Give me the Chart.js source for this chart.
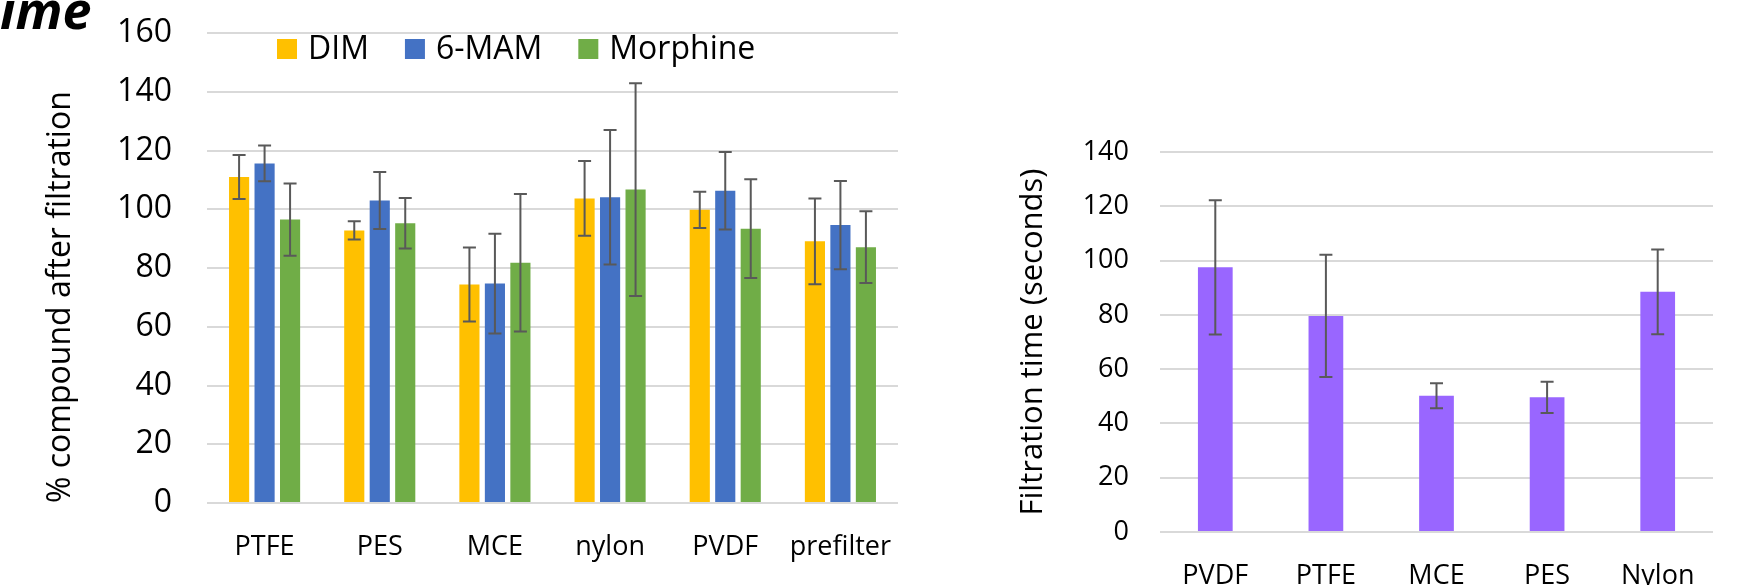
<!DOCTYPE html>
<html>
<head>
<meta charset="utf-8">
<script src="https://cdn.jsdelivr.net/npm/chart.js@4/dist/chart.umd.min.js"></script>
<style>
    html, body { margin: 0; padding: 0; background: #fff; }
    body { width: 1740px; height: 585px; position: relative; overflow: hidden; }
    canvas { position: absolute; top: 0; }
    #recovery { left: 0; }
    #filtration { left: 940px; }
    .cut-title {
        position: absolute; left: 0; top: -27px;
        font: italic bold 52px 'Open Sans', sans-serif; color: #000;
        white-space: nowrap;
    }
</style>
</head>
<body>
<div class="cut-title">ime</div>
<canvas id="recovery" width="930" height="585"></canvas>
<canvas id="filtration" width="800" height="585"></canvas>
<script>
// Left chart: recovery after filtration
const filters = ['PTFE', 'PES', 'MCE', 'nylon', 'PVDF', 'prefilter'];
const dimValues = [111, 92.8, 74.4, 103.7, 99.8, 89.1];
const dimErrors = [7.5, 3.1, 12.6, 12.7, 6.2, 14.6];
const mamValues = [115.6, 103, 74.7, 104.1, 106.3, 94.6];
const mamErrors = [6.1, 9.7, 17, 22.9, 13.2, 15];
const morphineValues = [96.5, 95.2, 81.8, 106.7, 93.4, 87.1];
const morphineErrors = [12.3, 8.6, 23.4, 36.2, 16.8, 12.2];

// Right chart: filtration time
const timeFilters = ['PVDF', 'PTFE', 'MCE', 'PES', 'Nylon'];
const timeValues = [97.5, 79.6, 50.2, 49.6, 88.5];
const timeErrors = [24.7, 22.5, 4.6, 5.8, 15.6];

Chart.defaults.font.family = "'Open Sans', sans-serif";
Chart.defaults.color = '#000';

const GRID = '#d9d9d9';

// draws +/- error bars with caps on every bar
const errorBars = {
    id: 'errorBars',
    afterDatasetsDraw(chart) {
        const ctx = chart.ctx;
        const y = chart.scales.y;
        ctx.save();
        ctx.strokeStyle = '#595959';
        ctx.lineWidth = 2;
        chart.data.datasets.forEach((ds, i) => {
            chart.getDatasetMeta(i).data.forEach((bar, j) => {
                const top = y.getPixelForValue(ds.data[j] + ds.errors[j]);
                const bottom = y.getPixelForValue(ds.data[j] - ds.errors[j]);
                const cap = 6.5;
                ctx.beginPath();
                ctx.moveTo(bar.x, top);
                ctx.lineTo(bar.x, bottom);
                ctx.moveTo(bar.x - cap, top);
                ctx.lineTo(bar.x + cap, top);
                ctx.moveTo(bar.x - cap, bottom);
                ctx.lineTo(bar.x + cap, bottom);
                ctx.stroke();
            });
        });
        ctx.restore();
    }
};

// legend drawn over the top of the plot, like the original
const overlayLegend = {
    id: 'overlayLegend',
    afterDraw(chart, args, opts) {
        const ctx = chart.ctx;
        ctx.save();
        ctx.font = '32px "Open Sans", sans-serif';
        ctx.textBaseline = 'middle';
        ctx.fillStyle = '#000';
        let x = opts.x;
        chart.data.datasets.forEach(ds => {
            ctx.fillStyle = ds.backgroundColor;
            ctx.fillRect(x, opts.y - 10, 20, 20);
            ctx.fillStyle = '#000';
            ctx.fillText(ds.label, x + 31, opts.y + 1);
            x += 31 + ctx.measureText(ds.label).width + 36;
        });
        ctx.restore();
    }
};

new Chart(document.getElementById('recovery'), {
    type: 'bar',
    data: {
        labels: filters,
        datasets: [
            { label: 'DIM', data: dimValues, errors: dimErrors, backgroundColor: '#ffc000' },
            { label: '6-MAM', data: mamValues, errors: mamErrors, backgroundColor: '#4472c4' },
            { label: 'Morphine', data: morphineValues, errors: morphineErrors, backgroundColor: '#70ad47' }
        ]
    },
    options: {
        responsive: false,
        animation: false,
        events: [],
        layout: { padding: { left: 38, top: 33, right: 32, bottom: 0 } },
        datasets: { bar: { categoryPercentage: 0.664, barPercentage: 0.79 } },
        plugins: {
            legend: { display: false },
            tooltip: { enabled: false },
            overlayLegend: { x: 277, y: 49 }
        },
        scales: {
            x: {
                grid: { display: false },
                border: { display: false },
                ticks: { font: { size: 27 }, padding: 20, maxRotation: 0, autoSkip: false },
                afterFit(scale) { scale.height = 82; }
            },
            y: {
                min: 0,
                max: 160,
                ticks: { stepSize: 20, font: { size: 32 }, padding: 3 },
                // invisible tick marks push the labels away from the plot
                grid: { color: GRID, lineWidth: 2, tickLength: 32, tickColor: 'rgba(0,0,0,0)' },
                border: { display: false },
                title: { display: true, text: '% compound after filtration', align: 'start', font: { size: 32 } },
                afterFit(scale) { scale.width = 169; }
            }
        }
    },
    plugins: [errorBars, overlayLegend]
});

new Chart(document.getElementById('filtration'), {
    type: 'bar',
    data: {
        labels: timeFilters,
        datasets: [
            { label: 'Filtration time', data: timeValues, errors: timeErrors, backgroundColor: '#9966ff' }
        ]
    },
    options: {
        responsive: false,
        animation: false,
        events: [],
        layout: { padding: { left: 71, top: 152, right: 27, bottom: 0 } },
        datasets: { bar: { categoryPercentage: 1, barPercentage: 0.314 } },
        plugins: {
            legend: { display: false },
            tooltip: { enabled: false }
        },
        scales: {
            x: {
                grid: { display: false },
                border: { display: false },
                ticks: { font: { size: 27 }, padding: 20, maxRotation: 0, autoSkip: false },
                afterFit(scale) { scale.height = 53; }
            },
            y: {
                min: 0,
                max: 140,
                ticks: { stepSize: 20, font: { size: 27 }, padding: 3 },
                grid: { color: GRID, lineWidth: 2, tickLength: 28, tickColor: 'rgba(0,0,0,0)' },
                border: { display: false },
                title: { display: true, text: 'Filtration time (seconds)', font: { size: 31 } },
                afterFit(scale) { scale.width = 149; }
            }
        }
    },
    plugins: [errorBars]
});
</script>
</body>
</html>
